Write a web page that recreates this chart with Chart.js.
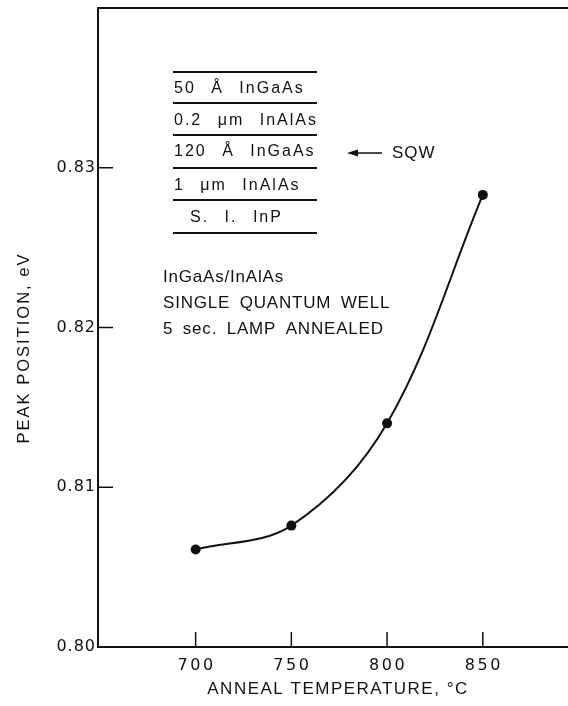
<!DOCTYPE html>
<html>
<head>
<meta charset="utf-8">
<script src="https://cdn.jsdelivr.net/npm/chart.js@4.4.0/dist/chart.umd.min.js"></script>
<style>
    html, body { margin: 0; padding: 0; background: #fff; overflow: hidden; }
    #wrap { width: 568px; height: 706px; }
</style>
</head>
<body>
<div id="wrap"><canvas id="peakChart" width="568" height="706"></canvas></div>
<script>
// Peak position vs anneal temperature (InGaAs/InAlAs SQW)
const temperatures = [700, 750, 800, 850];
const peakPositions = [0.8061, 0.8076, 0.8140, 0.8283];
const xTickValues = [700, 750, 800, 850];
const yTickValues = [0.80, 0.81, 0.82, 0.83];
const layerNames = ['50 Å InGaAs', '0.2 μm InAlAs', '120 Å InGaAs', '1 μm InAlAs', 'S. I. InP'];
const noteLines = ['InGaAs/InAlAs', 'SINGLE QUANTUM WELL', '5 sec. LAMP ANNEALED'];

const INK = '#111';
const FONT = '"Liberation Sans", "DejaVu Sans", sans-serif';
const NUM_FONT = '"DejaVu Sans", sans-serif';

// axes frame, inward ticks, labels, titles and the inset sketch
const framePlugin = {
    id: 'frame',
    afterDraw(chart) {
        const ctx = chart.ctx;
        const area = chart.chartArea;
        const xs = chart.scales.x;
        const ys = chart.scales.y;
        ctx.save();
        ctx.strokeStyle = INK;
        ctx.fillStyle = INK;
        ctx.lineWidth = 2;

        // left, bottom and top border
        ctx.beginPath();
        ctx.moveTo(area.right, area.top);
        ctx.lineTo(area.left, area.top);
        ctx.lineTo(area.left, area.bottom);
        ctx.lineTo(area.right, area.bottom);
        ctx.stroke();

        // inward ticks + labels
        ctx.lineWidth = 1.5;
        ctx.font = '16px ' + NUM_FONT;
        ctx.textBaseline = 'middle';
        ctx.textAlign = 'center';
        ctx.letterSpacing = '2.5px';
        xTickValues.forEach(v => {
            const px = xs.getPixelForValue(v);
            ctx.beginPath();
            ctx.moveTo(px, area.bottom);
            ctx.lineTo(px, area.bottom - 15);
            ctx.stroke();
            ctx.fillText(String(v), px + 1, area.bottom + 19);
        });
        ctx.textAlign = 'right';
        ctx.letterSpacing = '1px';
        yTickValues.forEach(v => {
            const py = ys.getPixelForValue(v);
            ctx.beginPath();
            ctx.moveTo(area.left, py);
            ctx.lineTo(area.left + 15, py);
            ctx.stroke();
            ctx.fillText(v.toFixed(2), area.left - 2, py);
        });

        // axis titles
        ctx.font = '17px ' + FONT;
        ctx.letterSpacing = '1.5px';
        ctx.textAlign = 'center';
        ctx.fillText('ANNEAL TEMPERATURE, °C', 338, 689);
        ctx.save();
        ctx.translate(24, 348);
        ctx.rotate(-Math.PI / 2);
        ctx.font = '16.5px ' + FONT;
        ctx.letterSpacing = '2px';
        ctx.fillText('PEAK POSITION, eV', 0, 0);
        ctx.restore();

        // layer stack inset
        ctx.font = '16px ' + FONT;
        ctx.letterSpacing = '2px';
        ctx.wordSpacing = '9px';
        ctx.textAlign = 'left';
        const lineYs = [72, 103, 135, 168, 200, 233];
        ctx.lineWidth = 2;
        lineYs.forEach(y => {
            ctx.beginPath();
            ctx.moveTo(173, y);
            ctx.lineTo(317, y);
            ctx.stroke();
        });
        const rowYs = [89, 121, 152, 186, 218];
        layerNames.forEach((name, i) => {
            const x = i === layerNames.length - 1 ? 190 : 174;
            ctx.fillText(name, x, rowYs[i]);
        });

        // SQW arrow
        ctx.lineWidth = 1.5;
        ctx.beginPath();
        ctx.moveTo(352, 153);
        ctx.lineTo(382, 153);
        ctx.stroke();
        ctx.beginPath();
        ctx.moveTo(347, 153);
        ctx.lineTo(358, 149.5);
        ctx.lineTo(358, 156.5);
        ctx.closePath();
        ctx.fill();
        ctx.font = '17px ' + FONT;
        ctx.letterSpacing = '1px';
        ctx.wordSpacing = '0px';
        ctx.fillText('SQW', 392, 153);

        // notes
        ctx.font = '17px ' + FONT;
        ctx.letterSpacing = '0.8px';
        ctx.wordSpacing = '4px';
        noteLines.forEach((t, i) => {
            ctx.fillText(t, 163, 277 + i * 26);
        });
        ctx.restore();
    }
};

new Chart(document.getElementById('peakChart'), {
    type: 'line',
    data: {
        datasets: [{
            data: temperatures.map((t, i) => ({ x: t, y: peakPositions[i] })),
            borderColor: INK,
            backgroundColor: INK,
            borderWidth: 2,
            pointRadius: 5,
            pointBackgroundColor: INK,
            pointBorderWidth: 0,
            tension: 0.35,
            fill: false
        }]
    },
    options: {
        responsive: false,
        animation: false,
        events: [],
        layout: { autoPadding: false, padding: { top: 8, right: 0, left: 0, bottom: 0 } },
        plugins: {
            legend: { display: false },
            tooltip: { enabled: false }
        },
        scales: {
            x: {
                type: 'linear',
                min: 649,
                max: 894.5,
                border: { display: false },
                grid: { display: false, drawTicks: false },
                ticks: { display: false },
                afterFit: axis => {
                    axis.height = 59;
                    axis.paddingLeft = 0;
                    axis.paddingRight = 0;
                }
            },
            y: {
                type: 'linear',
                min: 0.80,
                max: 0.84,
                border: { display: false },
                grid: { display: false, drawTicks: false },
                ticks: { display: false },
                afterFit: axis => {
                    axis.width = 98;
                    axis.paddingTop = 0;
                    axis.paddingBottom = 0;
                }
            }
        }
    },
    plugins: [framePlugin]
});
</script>
</body>
</html>
